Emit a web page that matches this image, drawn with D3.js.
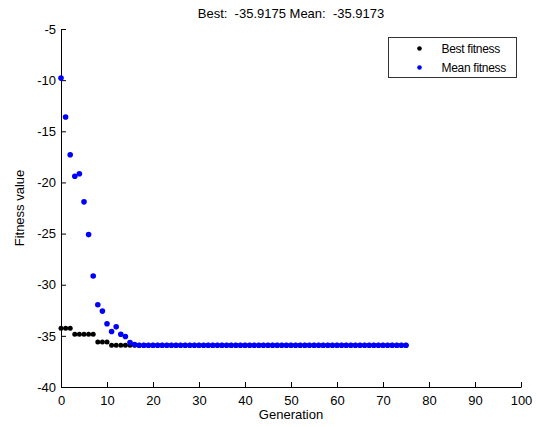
<!DOCTYPE html>
<html>
<head>
<meta charset="utf-8">
<script src="https://cdn.jsdelivr.net/npm/d3@7"></script>
<style>
  body { margin: 0; background: #fff; }
  text { font-family: "Liberation Sans", Arial, sans-serif; fill: #000; }
</style>
</head>
<body>
<div id="chart"></div>
<script>
var width = 537, height = 427;
var margin = {left: 61, right: 16, top: 29, bottom: 40};

// data
let generations = d3.range(0, 76);
let bestEarly = [-34.25, -34.25, -34.25, -34.84, -34.84, -34.84, -34.84, -34.84, -35.59, -35.59, -35.59];
let bestFinal = -35.9175;
let meanEarly = [-9.8, -13.6, -17.3, -19.4, -19.15, -21.9, -25.1, -29.15, -31.96, -32.58, -33.82, -34.58, -34.12, -34.84, -35.07, -35.66, -35.84];
let meanFinal = -35.9173;
let xTicks = [0, 10, 20, 30, 40, 50, 60, 70, 80, 90, 100];
let yTicks = [-5, -10, -15, -20, -25, -30, -35, -40];

let best = generations.map(g => g < bestEarly.length ? bestEarly[g] : bestFinal);
let mean = generations.map(g => g < meanEarly.length ? meanEarly[g] : meanFinal);

let svg = d3.select('#chart')
  .append('svg')
  .attr('width', width)
  .attr('height', height)

let x = d3.scaleLinear().domain([0, 100]).range([margin.left, width - margin.right]);
let y = d3.scaleLinear().domain([-40, -5]).range([height - margin.bottom, margin.top]);

// axes (ticks point inward like matlab), plain hyphen for minus
let xAxis = d3.axisBottom(x).tickValues(xTicks).tickFormat(d => String(d))
  .tickSizeInner(-5).tickSizeOuter(0).tickPadding(9);
let yAxis = d3.axisLeft(y).tickValues(yTicks).tickFormat(d => String(d))
  .tickSizeInner(-5).tickSizeOuter(0).tickPadding(9);

let gx = svg.append('g')
  .attr('transform', `translate(0, ${height - margin.bottom})`)
  .call(xAxis);
let gy = svg.append('g')
  .attr('transform', `translate(${margin.left}, 0)`)
  .call(yAxis);

svg.selectAll('.domain, .tick line').attr('stroke', '#000').attr('stroke-width', 1);
svg.selectAll('.tick text')
  .style('font-family', '"Liberation Sans", Arial, sans-serif')
  .style('font-size', '13px')
  .attr('fill', '#000');
gy.selectAll('.tick text').attr('dx', 4);

// points
svg.append('g')
  .selectAll('circle')
  .data(generations)
  .enter()
  .append('circle')
  .attr('cx', d => x(d))
  .attr('cy', d => y(best[d]))
  .attr('r', 2.5)
  .attr('fill', '#000')

svg.append('g')
  .selectAll('circle')
  .data(generations)
  .enter()
  .append('circle')
  .attr('cx', d => x(d))
  .attr('cy', d => y(mean[d]))
  .attr('r', 2.8)
  .attr('fill', '#0000ff')

// title + labels
svg.append('text')
  .attr('x', (margin.left + width - margin.right) / 2)
  .attr('y', 18)
  .attr('text-anchor', 'middle')
  .style('font-size', '13px')
  .style('white-space', 'pre')
  .text('Best:  -35.9175 Mean:  -35.9173');

svg.append('text')
  .attr('x', (margin.left + width - margin.right) / 2)
  .attr('y', 419)
  .attr('text-anchor', 'middle')
  .style('font-size', '13px')
  .text('Generation');

svg.append('text')
  .attr('transform', `translate(24, ${(margin.top + height - margin.bottom) / 2}) rotate(-90)`)
  .attr('text-anchor', 'middle')
  .style('font-size', '13px')
  .text('Fitness value');

// legend
let legend = svg.append('g').attr('transform', 'translate(388.5, 37.5)');
legend.append('rect')
  .attr('width', 128)
  .attr('height', 40)
  .attr('fill', '#fff')
  .attr('stroke', '#333');

let legendItems = [{name: 'Best fitness', color: '#000'}, {name: 'Mean fitness', color: '#0000ff'}];
legend.selectAll('circle')
  .data(legendItems)
  .enter()
  .append('circle')
  .attr('cx', 31)
  .attr('cy', (d, i) => 11 + i * 19)
  .attr('r', 2.3)
  .attr('fill', d => d.color);
legend.selectAll('text')
  .data(legendItems)
  .enter()
  .append('text')
  .attr('x', 53)
  .attr('y', (d, i) => 15 + i * 19)
  .style('font-size', '12px')
  .style('letter-spacing', '-0.3px')
  .text(d => d.name);
</script>
</body>
</html>
